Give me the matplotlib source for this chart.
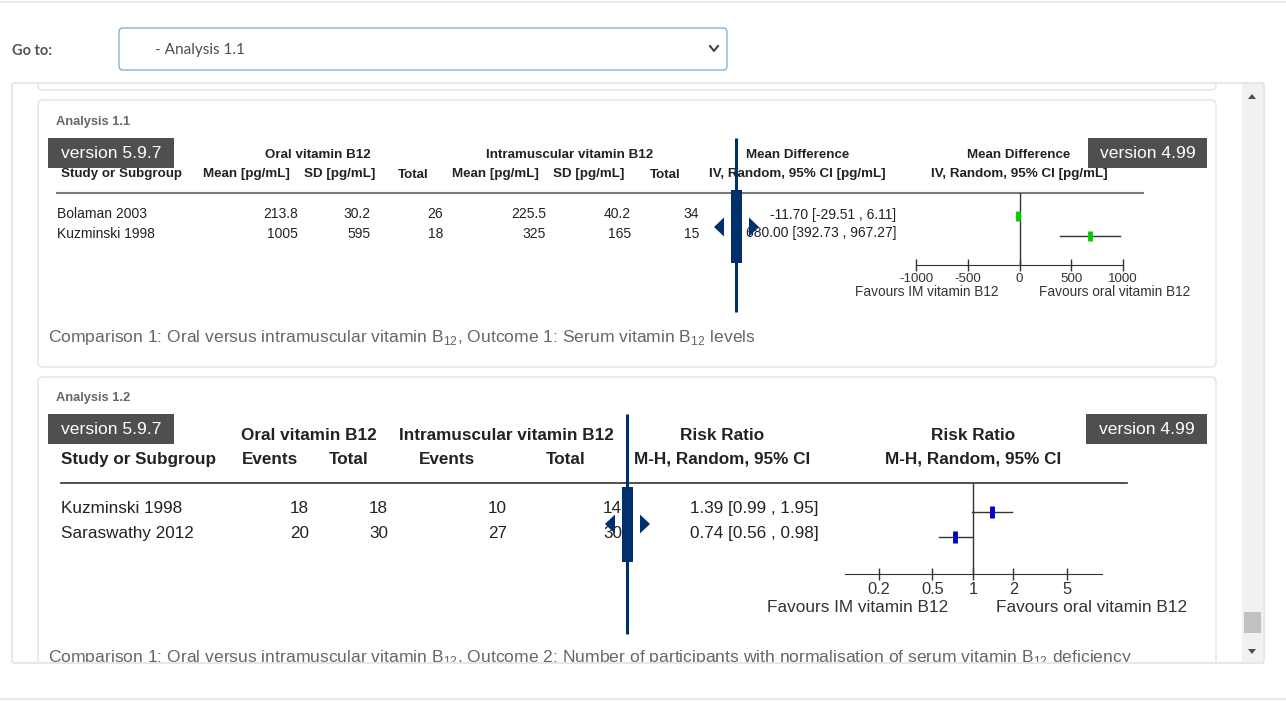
import matplotlib
matplotlib.use("Agg")
import matplotlib.pyplot as plt
from matplotlib.patches import Rectangle, FancyBboxPatch, Polygon
from matplotlib.transforms import Bbox, TransformedBbox

plt.rcParams['font.family'] = ['Liberation Sans', 'DejaVu Sans']

# ---- analysis 1.1 : mean difference (pg/mL)
md_study = ['Bolaman 2003', 'Kuzminski 1998']
oral_mean = [213.8, 1005]
oral_sd = [30.2, 595]
oral_n = [26, 18]
im_mean = [225.5, 325]
im_sd = [40.2, 165]
im_n = [34, 15]
md_est = [-11.70, 680.00]
md_lo = [-29.51, 392.73]
md_hi = [6.11, 967.27]
md_ticks = [-1000, -500, 0, 500, 1000]

# ---- analysis 1.2 : risk ratio
rr_study = ['Kuzminski 1998', 'Saraswathy 2012']
oral_ev = [18, 20]
oral_tot = [18, 30]
im_ev = [10, 27]
im_tot = [14, 30]
rr_est = [1.39, 0.74]
rr_lo = [0.99, 0.56]
rr_hi = [1.95, 0.98]
rr_ticks = [0.2, 0.5, 1, 2, 5]

W, H = 1286, 702
NAVY = '#00306b'
TXT = '#222222'
DY = 1.5  # text baseline nudge

fig = plt.figure(figsize=(W / 100, H / 100), dpi=100)
bg = fig.add_axes([0, 0, 1, 1])
bg.set_xlim(0, W)
bg.set_ylim(H, 0)
bg.axis('off')

clipbb = TransformedBbox(Bbox.from_extents(13 / W, 1 - 662 / H, 1242 / W, 1 - 84 / H), fig.transFigure)


def px_axes(x0, y0, x1, y1):
    return fig.add_axes([x0 / W, 1 - y1 / H, (x1 - x0) / W, (y1 - y0) / H])


def txt(x, y, s, clip=True, **kw):
    kw.setdefault('color', TXT)
    kw.setdefault('va', 'center')
    t = bg.text(x, y + DY, s, **kw)
    if clip:
        t.set_clip_box(clipbb)
        t.set_clip_on(True)
    return t


def rbox(x, y, w, h, ec='#e3e3e3', fc='white', r=5, lw=1, clip=True, z=1):
    p = FancyBboxPatch((x, y), w, h, boxstyle='round,pad=0,rounding_size=%d' % r,
                       ec=ec, fc=fc, lw=lw, zorder=z)
    bg.add_patch(p)
    if clip:
        p.set_clip_box(clipbb)
    return p


# page chrome
bg.plot([0, W], [2, 2], color='#e6e6e6', lw=1.2)
bg.plot([0, W], [699, 699], color='#e6e6e6', lw=1.2)
bg.text(12, 51, 'Go to:', family=['Lato', 'DejaVu Sans'], weight='bold', fontsize=10.5,
        color='#555555', va='center')
rbox(119, 28, 608, 42, ec='#7fb3e0', r=4, lw=1, clip=False)
bg.text(155, 50, '- Analysis 1.1', family=['Lato', 'DejaVu Sans'], fontsize=11,
        color='#495057', va='center')
bg.plot([710, 714, 718], [46, 51, 46], color='#343a40', lw=1.4)

# scroll panel
rbox(12, 83, 1252, 580, ec='#dddddd', r=2, clip=False)
bg.add_patch(Rectangle((1242, 84), 21, 578, fc='#f1f1f1', ec='none', zorder=2))
bg.add_patch(Rectangle((1244, 612), 17, 21, fc='#c1c1c1', ec='none', zorder=3))
bg.add_patch(Polygon([[1248, 99], [1256, 99], [1252, 94]], closed=True, fc='#505050', ec='none', zorder=3))
bg.add_patch(Polygon([[1248, 649], [1256, 649], [1252, 654]], closed=True, fc='#505050', ec='none', zorder=3))

# cards
rbox(38, 40, 1178, 50)
rbox(38, 100, 1178, 267)
rbox(38, 377, 1178, 330)


def badge(x, y, w, s):
    bg.add_patch(Rectangle((x, y), w, 30, fc='#4f4f4f', ec='none', zorder=4))
    bg.text(x + w / 2, y + 15.5, s, color='white', fontsize=12.6, ha='center', va='center', zorder=5)


def slider(x, y0, y1, ry0, ry1, ty, tri_l, tri_r):
    bg.plot([x, x], [y0, y1], color=NAVY, lw=2.2, zorder=6, solid_capstyle='butt')
    bg.add_patch(Rectangle((x - 5.5, ry0), 11, ry1 - ry0, fc=NAVY, ec='none', zorder=6))
    bg.add_patch(Polygon([[tri_l, ty], [tri_l + 10, ty - 9.5], [tri_l + 10, ty + 9.5]],
                         closed=True, fc=NAVY, ec='none', zorder=6))
    bg.add_patch(Polygon([[tri_r, ty - 9.5], [tri_r + 10, ty], [tri_r, ty + 9.5]],
                         closed=True, fc=NAVY, ec='none', zorder=6))


# ================= Analysis 1.1 =================
txt(56, 120, 'Analysis 1.1', weight='bold', fontsize=9.3, color='#666666')
badge(48, 138, 126, 'version 5.9.7')
badge(1088, 138, 119, 'version 4.99')

hs = 9.6
txt(318, 154, 'Oral vitamin B12', weight='bold', fontsize=hs, ha='center')
txt(570, 154, 'Intramuscular vitamin B12', weight='bold', fontsize=hs, ha='center')
txt(798, 154, 'Mean Difference', weight='bold', fontsize=hs, ha='center')
txt(1019, 154, 'Mean Difference', weight='bold', fontsize=hs, ha='center')
txt(61, 173, 'Study or Subgroup', weight='bold', fontsize=hs)
for cx, s in zip([246, 340, 413, 495, 589, 665, 797, 1019],
                 ['Mean [pg/mL]', 'SD [pg/mL]', 'Total', 'Mean [pg/mL]', 'SD [pg/mL]', 'Total',
                  'IV, Random, 95% CI [pg/mL]', 'IV, Random, 95% CI [pg/mL]']):
    txt(cx, 173, s, weight='bold', fontsize=hs, ha='center')
bg.plot([57, 1143], [193, 193], color='#7a7a7a', lw=1.5)

for i, name in enumerate(md_study):
    y = 213 + 19 * i
    txt(57, y, name, fontsize=10)
    vals = ['%g' % oral_mean[i], '%g' % oral_sd[i], str(oral_n[i]),
            '%g' % im_mean[i], '%g' % im_sd[i], str(im_n[i]),
            '%.2f [%.2f , %.2f]' % (md_est[i], md_lo[i], md_hi[i])]
    for rx, s in zip([298, 371, 443, 546, 631, 699, 896], vals):
        txt(rx, y, s, fontsize=10, ha='right')

ax1 = px_axes(916, 193, 1123, 265)
ax1.set_xlim(-1000, 1000)
ax1.set_ylim(2.425, -1.175)
ax1.axvline(0, color='#333333', lw=1)
for i in range(len(md_study)):
    ax1.plot([md_lo[i], md_hi[i]], [i, i], color='#333333', lw=1)
ax1.plot(md_est, range(len(md_est)), ls='none', marker='|', ms=7.5, mew=3.5, color='#00cc00')
ax1.set_xticks(md_ticks)
ax1.set_xticklabels([str(t) for t in md_ticks])
ax1.set_yticks([])
for s in ['top', 'left', 'right']:
    ax1.spines[s].set_visible(False)
ax1.spines['bottom'].set_color('#333333')
ax1.tick_params(axis='x', direction='inout', length=8, width=1, color='#333333',
                labelsize=9.6, labelcolor='#333333', pad=1.5)
ax1.patch.set_alpha(0)
txt(927, 291, 'Favours IM vitamin B12', fontsize=9.8, ha='center', color='#333333')
txt(1115, 291, 'Favours oral vitamin B12', fontsize=9.8, ha='center', color='#333333')

txt(48, 336, 'Comparison 1: Oral versus intramuscular vitamin B$_{\\mathregular{12}}$, '
    'Outcome 1: Serum vitamin B$_{\\mathregular{12}}$ levels', fontsize=12.6, color='#666666')

slider(736, 138, 312, 190, 263, 227, 714, 749)

# ================= Analysis 1.2 =================
txt(56, 396, 'Analysis 1.2', weight='bold', fontsize=9.3, color='#666666')
badge(48, 414, 126, 'version 5.9.7')
badge(1086, 414, 121, 'version 4.99')

hs2 = 12.3
txt(309, 434, 'Oral vitamin B12', weight='bold', fontsize=hs2, ha='center')
txt(506, 434, 'Intramuscular vitamin B12', weight='bold', fontsize=hs2, ha='center')
txt(722, 434, 'Risk Ratio', weight='bold', fontsize=hs2, ha='center')
txt(973, 434, 'Risk Ratio', weight='bold', fontsize=hs2, ha='center')
txt(61, 458, 'Study or Subgroup', weight='bold', fontsize=hs2)
for cx, s in zip([270, 349, 447, 566, 722, 973],
                 ['Events', 'Total', 'Events', 'Total', 'M-H, Random, 95% CI', 'M-H, Random, 95% CI']):
    txt(cx, 458, s, weight='bold', fontsize=hs2, ha='center')
bg.plot([61, 1127], [483, 483], color='#333333', lw=1.2)

for i, name in enumerate(rr_study):
    y = 507 + 25 * i
    txt(61, y, name, fontsize=12.3)
    vals = [str(oral_ev[i]), str(oral_tot[i]), str(im_ev[i]), str(im_tot[i]),
            '%.2f [%.2f , %.2f]' % (rr_est[i], rr_lo[i], rr_hi[i])]
    for rx, s in zip([309, 388, 507, 622, 819], vals):
        txt(rx, y, s, fontsize=12.3, ha='right')

ax2 = px_axes(845, 483, 1102, 574)
ax2.set_xscale('log')
ax2.set_xlim(0.112, 9.1)
ax2.set_ylim(2.48, -1.16)
ax2.axvline(1, color='#333333', lw=1)
for i in range(len(rr_study)):
    ax2.plot([rr_lo[i], rr_hi[i]], [i, i], color='#333333', lw=1)
ax2.plot(rr_est, range(len(rr_est)), ls='none', marker='|', ms=9, mew=3.5, color='#0000cc')
ax2.set_xticks(rr_ticks)
ax2.set_xticklabels(['%g' % t for t in rr_ticks])
ax2.minorticks_off()
ax2.set_yticks([])
for s in ['top', 'left', 'right']:
    ax2.spines[s].set_visible(False)
ax2.spines['bottom'].set_color('#333333')
ax2.tick_params(axis='x', direction='inout', length=9, width=1, color='#333333',
                labelsize=11.8, labelcolor='#333333', pad=1)
ax2.patch.set_alpha(0)
txt(858, 606, 'Favours IM vitamin B12', fontsize=12.4, ha='center', color='#333333')
txt(1092, 606, 'Favours oral vitamin B12', fontsize=12.4, ha='center', color='#333333')

txt(48, 656, 'Comparison 1: Oral versus intramuscular vitamin B$_{\\mathregular{12}}$, '
    'Outcome 2: Number of participants with normalisation of serum vitamin B$_{\\mathregular{12}}$ deficiency',
    fontsize=12.6, color='#666666')

slider(627, 414, 634, 487, 562, 524, 605, 640)

fig.savefig('out.png', dpi=100)
